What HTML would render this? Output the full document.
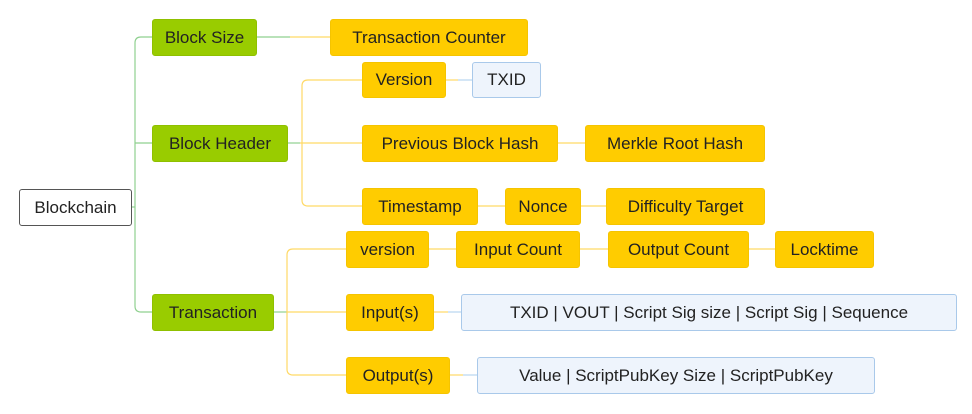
<!DOCTYPE html>
<html><head><style>
body{margin:0;width:972px;height:414px;background:#fff;position:relative;overflow:hidden;font-family:"Liberation Sans",sans-serif}
.n{position:absolute;box-sizing:border-box;display:flex;align-items:center;justify-content:center;font-size:17px;color:#222;border-radius:3px;white-space:nowrap}
.g{background:#99cc00;border:1px solid #8fc000}
.y{background:#ffcc00;border:1px solid #f5c400}
.b{background:#eef4fc;border:1px solid #a9c9ea}
.w{background:#fff;border:1px solid #555}
svg{position:absolute;left:0;top:0}
</style></head><body>
<svg width="972" height="414" fill="none">
<g stroke="#8fd08f" stroke-width="1.2">
<path d="M132 207 H135"/>
<path d="M152 37 H141 Q135 37 135 43 V306 Q135 312 141 312 H152"/>
<path d="M135 143 H152"/>
<path d="M257 37 H290"/>
<path d="M288 143 H300"/>
<path d="M274 312 H287"/>
</g>
<g stroke="#ffd966" stroke-width="1.2">
<path d="M290 37 H330"/>
<path d="M362 80 H308 Q302 80 302 86 V200 Q302 206 308 206 H362"/>
<path d="M300 143 H362"/>
<path d="M558 143 H585"/><path d="M478 206 H505"/><path d="M581 206 H606"/>
<path d="M346 249 H293 Q287 249 287 255 V369 Q287 375 293 375 H346"/>
<path d="M287 312 H346"/>
<path d="M429 249 H456"/><path d="M580 249 H608"/><path d="M749 249 H775"/>
<path d="M446 80 H458"/><path d="M434 312 H448"/><path d="M450 375 H463"/>
</g>
<g stroke="#b8d4f0" stroke-width="1.2">
<path d="M458 80 H472"/><path d="M448 312 H461"/><path d="M463 375 H477"/>
</g>
</svg>
<div class="n w" style="left:19px;top:189px;width:113px;height:37px">Blockchain</div>
<div class="n g" style="left:152px;top:19px;width:105px;height:37px">Block Size</div>
<div class="n y" style="left:330px;top:19px;width:198px;height:37px">Transaction Counter</div>
<div class="n g" style="left:152px;top:125px;width:136px;height:37px">Block Header</div>
<div class="n y" style="left:362px;top:62px;width:84px;height:36px">Version</div>
<div class="n b" style="left:472px;top:62px;width:69px;height:36px">TXID</div>
<div class="n y" style="left:362px;top:125px;width:196px;height:37px">Previous Block Hash</div>
<div class="n y" style="left:585px;top:125px;width:180px;height:37px">Merkle Root Hash</div>
<div class="n y" style="left:362px;top:188px;width:116px;height:37px">Timestamp</div>
<div class="n y" style="left:505px;top:188px;width:76px;height:37px">Nonce</div>
<div class="n y" style="left:606px;top:188px;width:159px;height:37px">Difficulty Target</div>
<div class="n g" style="left:152px;top:294px;width:122px;height:37px">Transaction</div>
<div class="n y" style="left:346px;top:231px;width:83px;height:37px">version</div>
<div class="n y" style="left:456px;top:231px;width:124px;height:37px">Input Count</div>
<div class="n y" style="left:608px;top:231px;width:141px;height:37px">Output Count</div>
<div class="n y" style="left:775px;top:231px;width:99px;height:37px">Locktime</div>
<div class="n y" style="left:346px;top:294px;width:88px;height:37px">Input(s)</div>
<div class="n b" style="left:461px;top:294px;width:496px;height:37px">TXID | VOUT | Script Sig size | Script Sig | Sequence</div>
<div class="n y" style="left:346px;top:357px;width:104px;height:37px">Output(s)</div>
<div class="n b" style="left:477px;top:357px;width:398px;height:37px">Value | ScriptPubKey Size | ScriptPubKey</div>
</body></html>
